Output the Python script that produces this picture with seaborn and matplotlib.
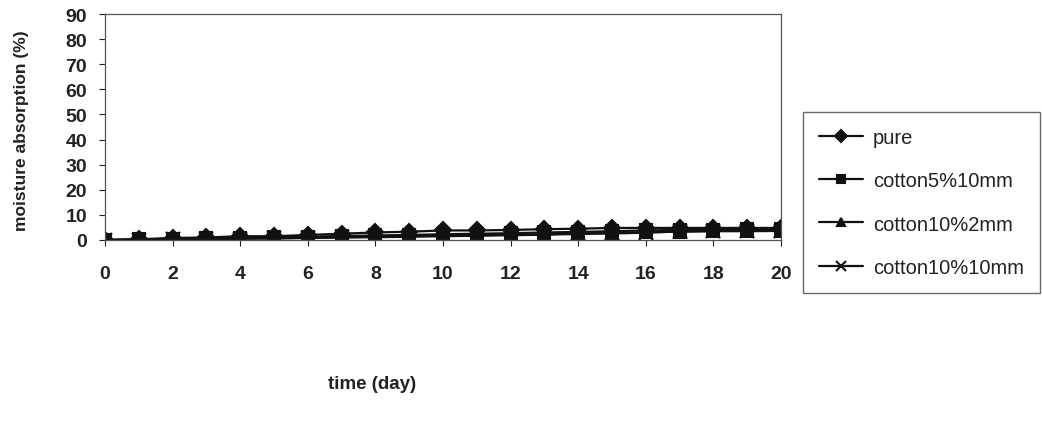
import numpy as np
import pandas as pd
import matplotlib
matplotlib.use("Agg")
import matplotlib.pyplot as plt
import seaborn as sns

days = list(range(21))
pure = [0, 0.3, 0.8, 1.0, 1.5, 1.5, 2.0, 2.5, 3.0, 3.3, 3.8, 3.8, 4.0, 4.3, 4.5, 4.8, 4.8, 4.8, 4.8, 4.8, 4.8]
cotton5_10 = [0, 0.2, 0.5, 0.6, 0.9, 1.0, 1.3, 1.6, 1.8, 2.0, 2.3, 2.5, 2.7, 3.0, 3.2, 3.5, 3.8, 4.0, 4.0, 4.2, 4.2]
cotton10_2 = [0, 0.1, 0.3, 0.4, 0.6, 0.7, 0.9, 1.1, 1.3, 1.5, 1.7, 1.9, 2.1, 2.3, 2.6, 2.8, 3.1, 3.3, 3.5, 3.5, 3.6]
cotton10_10 = [0, 0.1, 0.2, 0.3, 0.5, 0.6, 0.8, 1.0, 1.1, 1.3, 1.5, 1.7, 1.9, 2.1, 2.4, 2.6, 2.9, 3.4, 3.6, 3.7, 3.7]
series_names = ["pure", "cotton5%10mm", "cotton10%2mm", "cotton10%10mm"]
series_markers = ["D", "s", "^", "x"]

df = pd.DataFrame({
    "day": days * 4,
    "value": pure + cotton5_10 + cotton10_2 + cotton10_10,
    "series": sum([[n] * len(days) for n in series_names], []),
})

sns.set_style("white")
plt.rcParams["font.family"] = ["Liberation Sans", "DejaVu Sans"]

fig = plt.figure(figsize=(10.42, 4.35), dpi=100)
ax = fig.add_axes([0.1008, 0.446, 0.6487, 0.5195])

# one call per series: seaborn won't mix filled and line markers in one call
for name, mk in zip(series_names, series_markers):
    sns.lineplot(
        data=df[df["series"] == name], x="day", y="value", label=name,
        color="#111111", marker=mk, markersize=10 if mk == "x" else 8,
        linewidth=1.6, markeredgecolor="#111111", markeredgewidth=1.5, ax=ax,
    )

ax.set_xlim(0, 20)
ax.set_ylim(0, 90)
ax.set_xticks(range(0, 21, 2))
ax.set_yticks(range(0, 91, 10))
ax.tick_params(axis="both", direction="out", length=4, width=0.8, labelsize=14,
               colors="#222222")
ax.tick_params(axis="x", pad=14)
ax.tick_params(axis="y", pad=9)
for lab in ax.get_xticklabels() + ax.get_yticklabels():
    lab.set_fontweight("bold")
ax.xaxis.set_ticks_position("bottom")
ax.yaxis.set_ticks_position("left")
for s in ax.spines.values():
    s.set_color("#555555")
    s.set_linewidth(0.9)
ax.set_xlabel("time (day)", fontsize=13.5, fontweight="bold", color="#222222")
ax.set_ylabel("moisture absorption (%)", fontsize=12.5, fontweight="bold", color="#222222")
ax.xaxis.set_label_coords(0.395, -0.597)
ax.yaxis.set_label_coords(-0.112, 0.49)

handles, labels = ax.get_legend_handles_labels()
leg = ax.legend(handles, labels, loc="upper left", bbox_to_anchor=(1.032, 0.566),
                fontsize=14.5, frameon=True, fancybox=False, edgecolor="#444444",
                labelspacing=1.2, handlelength=2.2, handletextpad=0.5,
                borderpad=0.8, borderaxespad=0, markerscale=0.75)
for t in leg.get_texts():
    t.set_color("#222222")

fig.savefig("out.png", dpi=100)
